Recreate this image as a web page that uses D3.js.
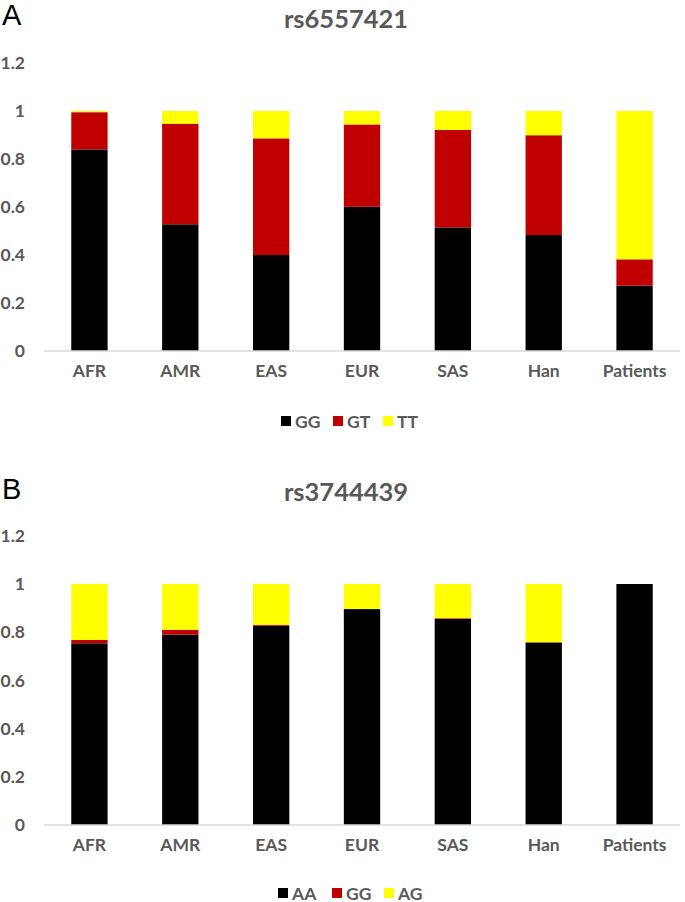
<!DOCTYPE html>
<html>
<head>
<meta charset="utf-8">
<script src="https://cdn.jsdelivr.net/npm/d3@7"></script>
<style>
  html, body { margin: 0; padding: 0; background: #fff; }
  svg { display: block; }
</style>
</head>
<body>
<svg id="chart" width="685" height="902"></svg>
<script>
// ---- Data ----
const categories = ["AFR", "AMR", "EAS", "EUR", "SAS", "Han", "Patients"];
const yTicks = [0, 0.2, 0.4, 0.6, 0.8, 1, 1.2];

// Panel A: rs6557421
const titleA = "rs6557421";
const seriesA = ["GG", "GT", "TT"];
const GG_A = [0.840, 0.528, 0.400, 0.601, 0.515, 0.483, 0.272];
const GT_A = [0.155, 0.419, 0.486, 0.343, 0.406, 0.416, 0.110];
const TT_A = [0.005, 0.053, 0.114, 0.056, 0.079, 0.101, 0.618];

// Panel B: rs3744439
const titleB = "rs3744439";
const seriesB = ["AA", "GG", "AG"];
const AA_B = [0.754, 0.790, 0.827, 0.896, 0.855, 0.758, 1.000];
const GG_B = [0.014, 0.020, 0.004, 0.000, 0.003, 0.000, 0.000];
const AG_B = [0.232, 0.190, 0.169, 0.104, 0.142, 0.242, 0.000];

const colors = ["#000000", "#c00000", "#ffff00"];

const svg = d3.select("#chart");
const FONT = "Lato, 'Open Sans', sans-serif";
const GREY = "#595959";

function panel(opts) {
  const { letter, letterY, title, titleY, y0, y1, series, values, legendY, legendX } = opts;
  const x = d3.scaleBand().domain(categories).range([44, 680]).paddingInner(0.6).paddingOuter(0.3);
  const y = d3.scaleLinear().domain([0, 1]).range([y0, y1]);

  // panel letter
  svg.append("text").attr("x", 2).attr("y", letterY)
    .attr("font-family", "'Liberation Sans', Arial, sans-serif").attr("font-size", 29)
    .attr("fill", "#000").text(letter);

  // title
  svg.append("text").attr("x", 346).attr("y", titleY).attr("text-anchor", "middle")
    .attr("font-family", FONT).attr("font-weight", "bold").attr("font-size", 25.5)
    .attr("fill", GREY).text(title);

  // y axis (labels only)
  const yAxis = d3.axisLeft(y).tickValues(yTicks).tickSize(0).tickPadding(19)
    .tickFormat(d => String(+d.toFixed(1)));
  const gy = svg.append("g").attr("transform", "translate(44,0)").call(yAxis);
  gy.select(".domain").remove();
  gy.selectAll("text").attr("font-family", FONT).attr("font-weight", "bold")
    .attr("font-size", 17.5).attr("fill", GREY);

  // stacked bars
  const rows = categories.map((c, i) => {
    const r = { cat: c };
    series.forEach((s, k) => r[s] = values[k][i]);
    return r;
  });
  const stack = d3.stack().keys(series)(rows);
  stack.forEach((layer, k) => {
    svg.append("g").attr("fill", colors[k]).selectAll("rect")
      .data(layer).join("rect")
      .attr("x", d => x(d.data.cat))
      .attr("width", x.bandwidth())
      .attr("y", d => y(d[1]))
      .attr("height", d => Math.max(0, y(d[0]) - y(d[1])));
  });

  // x axis line
  const xAxis = d3.axisBottom(x).tickSize(0).tickPadding(14);
  const gx = svg.append("g").attr("transform", `translate(0,${y0})`).call(xAxis);
  gx.select(".domain").attr("stroke", "#d9d9d9").attr("stroke-width", 1.5)
    .attr("d", "M44,0H680");
  gx.selectAll("text").attr("font-family", FONT).attr("font-weight", "bold")
    .attr("font-size", 17.5).attr("fill", GREY);

  // legend
  const lg = svg.append("g");
  series.forEach((s, k) => {
    const lx = legendX[k];
    lg.append("rect").attr("x", lx).attr("y", legendY - 5).attr("width", 10).attr("height", 10)
      .attr("fill", colors[k]);
    lg.append("text").attr("x", lx + 14).attr("y", legendY + 6.5)
      .attr("font-family", FONT).attr("font-weight", "bold").attr("font-size", 17.5)
      .attr("fill", GREY).text(s);
  });
}

panel({ letter: "A", letterY: 25, title: titleA, titleY: 28, y0: 351, y1: 111,
  series: seriesA, values: [GG_A, GT_A, TT_A], legendY: 421, legendX: [281, 333, 383] });
panel({ letter: "B", letterY: 499, title: titleB, titleY: 501, y0: 825, y1: 584,
  series: seriesB, values: [AA_B, GG_B, AG_B], legendY: 893, legendX: [278, 332, 384] });
</script>
</body>
</html>
